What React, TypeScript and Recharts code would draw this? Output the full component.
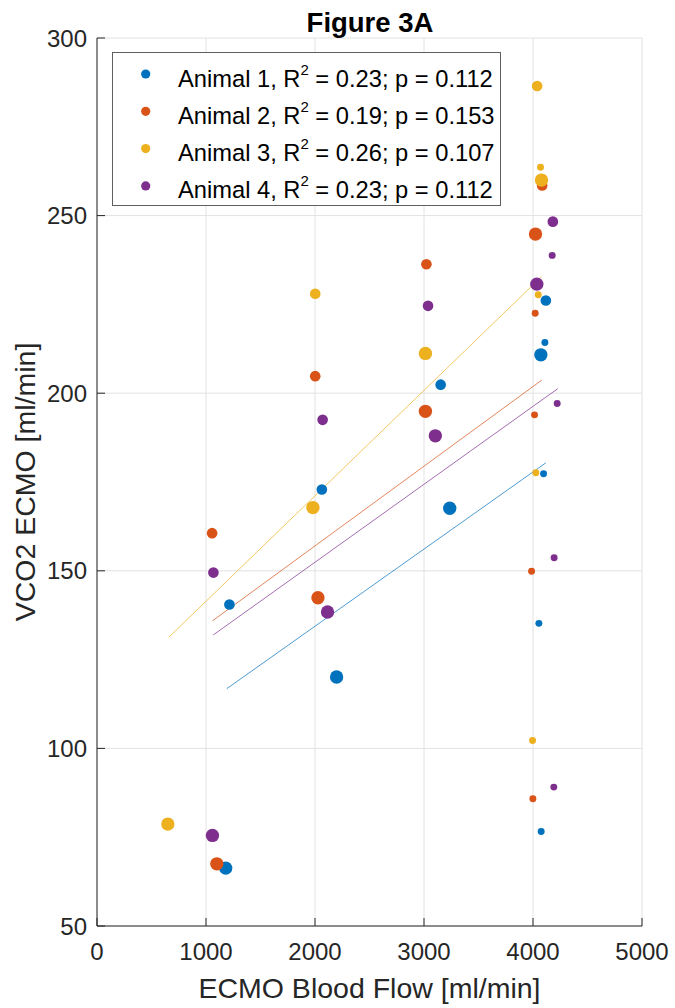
import React from 'react';
import { ScatterChart, Scatter, XAxis, YAxis, ZAxis, CartesianGrid, ReferenceLine } from 'recharts';

// measured values, one list per animal (x = blood flow, y = VCO2, z = marker size level)
const FLOW_1 = [1181, 1215, 2063, 2198, 3236, 3153, 4118, 4109, 4072, 4097, 4054, 4075];
const VCO2_1 = [66.3, 140.5, 172.9, 120.1, 167.6, 202.4, 226.1, 214.3, 210.8, 177.3, 135.2, 76.6];
const SIZE_1 = [3, 2, 2, 3, 3, 2, 2, 1, 3, 1, 1, 1];

const FLOW_2 = [1099, 1056, 2027, 2002, 3022, 3013, 4023, 4084, 4020, 4014, 3987, 3999];
const VCO2_2 = [67.5, 160.6, 142.4, 204.8, 236.3, 194.9, 244.8, 258.5, 222.5, 193.9, 149.9, 85.8];
const SIZE_2 = [3, 2, 3, 2, 2, 3, 3, 2, 1, 1, 1, 1];

const FLOW_3 = [650, 1981, 2002, 3013, 4038, 4069, 4078, 4048, 4026, 3996];
const VCO2_3 = [78.7, 167.8, 228.0, 211.2, 286.5, 263.6, 260.0, 227.7, 177.6, 102.2];
const SIZE_3 = [3, 3, 2, 3, 2, 1, 3, 1, 1, 1];

const FLOW_4 = [1059, 1068, 2115, 2070, 3037, 3104, 4035, 4182, 4176, 4222, 4194, 4191];
const VCO2_4 = [75.5, 149.5, 138.4, 192.5, 224.6, 188.0, 230.7, 248.3, 238.8, 197.1, 153.7, 89.1];
const SIZE_4 = [3, 2, 3, 2, 2, 3, 3, 2, 1, 1, 1, 1];

// linear fit end points [flow, vco2]
const FIT_1 = [[1190, 116.8], [4118, 180.4]];
const FIT_2 = [[1059, 135.9], [4081, 203.7]];
const FIT_3 = [[659, 131.3], [4078, 232.8]];
const FIT_4 = [[1065, 131.9], [4228, 201.3]];

const ANIMALS = ['Animal 1', 'Animal 2', 'Animal 3', 'Animal 4'];
const R2 = ['0.23', '0.19', '0.26', '0.23'];
const P_VALUES = ['0.112', '0.153', '0.107', '0.112'];
const COLORS = ['#0072BD', '#D95319', '#EDB120', '#7E2F8E'];

const X_TICKS = [0, 1000, 2000, 3000, 4000, 5000];
const Y_TICKS = [50, 100, 150, 200, 250, 300];

const FONT = '"Liberation Sans", Arial, Helvetica, sans-serif';
const AXIS = '#262626';

const toPoints = (xs: number[], ys: number[], zs: number[]) =>
  xs.map((x, i) => ({ x, y: ys[i], z: zs[i] }));

const series = [
  { points: toPoints(FLOW_1, VCO2_1, SIZE_1), fit: FIT_1 },
  { points: toPoints(FLOW_2, VCO2_2, SIZE_2), fit: FIT_2 },
  { points: toPoints(FLOW_3, VCO2_3, SIZE_3), fit: FIT_3 },
  { points: toPoints(FLOW_4, VCO2_4, SIZE_4), fit: FIT_4 },
];

const X_MARGIN = 17;
const Y_MARGIN = 10;
const TICK_LEN = 8;

// MATLAB style: tick marks point into the plot
const XTick = (props: any) => {
  const { x, y, payload } = props;
  const axisY = y - X_MARGIN;
  return (
    <g>
      <line x1={x} x2={x} y1={axisY} y2={axisY - TICK_LEN} stroke={AXIS} />
      <text x={x} y={y} dy="0.71em" textAnchor="middle" fill={AXIS} fontSize={24} fontFamily={FONT}>
        {payload.value}
      </text>
    </g>
  );
};

const YTick = (props: any) => {
  const { x, y, payload } = props;
  const axisX = x + Y_MARGIN;
  return (
    <g>
      <line x1={axisX} x2={axisX + TICK_LEN} y1={y} y2={y} stroke={AXIS} />
      <text x={x} y={y} dy="0.355em" textAnchor="end" fill={AXIS} fontSize={24} fontFamily={FONT}>
        {payload.value}
      </text>
    </g>
  );
};

const App: React.FC = () => {
  return (
    <div style={{ position: 'absolute', left: 0, top: 0, width: 675, height: 1008, background: '#fff' }}>
      <ScatterChart width={675} height={1008} margin={{ top: 38, right: 33, bottom: 0, left: 0 }}>
        <CartesianGrid stroke="#e2e2e2" />
        <XAxis
          type="number"
          dataKey="x"
          domain={[0, 5000]}
          ticks={X_TICKS}
          interval={0}
          height={82}
          axisLine={{ stroke: AXIS }}
          tickLine={false}
          tickSize={0}
          tickMargin={X_MARGIN}
          tick={<XTick />}
          label={{
            value: 'ECMO Blood Flow [ml/min]',
            position: 'insideBottom',
            offset: 10,
            fill: AXIS,
            fontSize: 28.5,
            fontFamily: FONT,
          }}
        />
        <YAxis
          type="number"
          dataKey="y"
          domain={[50, 300]}
          ticks={Y_TICKS}
          interval={0}
          width={97}
          axisLine={{ stroke: AXIS }}
          tickLine={false}
          tickSize={0}
          tickMargin={Y_MARGIN}
          tick={<YTick />}
          label={{
            value: 'VCO2 ECMO [ml/min]',
            angle: -90,
            position: 'insideLeft',
            offset: 25,
            fill: AXIS,
            fontSize: 28.5,
            fontFamily: FONT,
            style: { textAnchor: 'middle' },
          }}
        />
        <ZAxis type="number" dataKey="z" domain={[1, 3]} range={[38, 140]} />
        {series.map((s, i) => (
          <Scatter key={`pts-${i}`} name={ANIMALS[i]} data={s.points} fill={COLORS[i]} isAnimationActive={false} />
        ))}
        {series.map((s, i) => (
          <ReferenceLine
            key={`fit-${i}`}
            segment={[{ x: s.fit[0][0], y: s.fit[0][1] }, { x: s.fit[1][0], y: s.fit[1][1] }]}
            stroke={COLORS[i]}
            strokeOpacity={0.7}
            strokeWidth={1}
            ifOverflow="visible"
          />
        ))}
      </ScatterChart>

      {/* title */}
      <svg width={675} height={40} style={{ position: 'absolute', left: 0, top: 0 }}>
        <text x={370} y={31.5} textAnchor="middle" fontWeight="bold" fontSize={27.5} fontFamily={FONT} fill="#000">
          Figure 3A
        </text>
      </svg>

      {/* legend box */}
      <svg width={390} height={155} style={{ position: 'absolute', left: 112, top: 52 }}>
        <rect x={0.5} y={0.5} width={388} height={153} fill="#fff" stroke="#5f5f5f" />
        {ANIMALS.map((name, i) => {
          const cy = 22 + i * 37.3;
          return (
            <g key={name}>
              <circle cx={33.7} cy={cy} r={4.6} fill={COLORS[i]} />
              <text x={66} y={cy + 12.5} fontSize={23.7} fontFamily={FONT} fill="#000">
                {`${name}, R`}
                <tspan dy={-12} fontSize={15}>2</tspan>
                <tspan dy={12}>{` = ${R2[i]}; p = ${P_VALUES[i]}`}</tspan>
              </text>
            </g>
          );
        })}
      </svg>
    </div>
  );
};

export default App;
